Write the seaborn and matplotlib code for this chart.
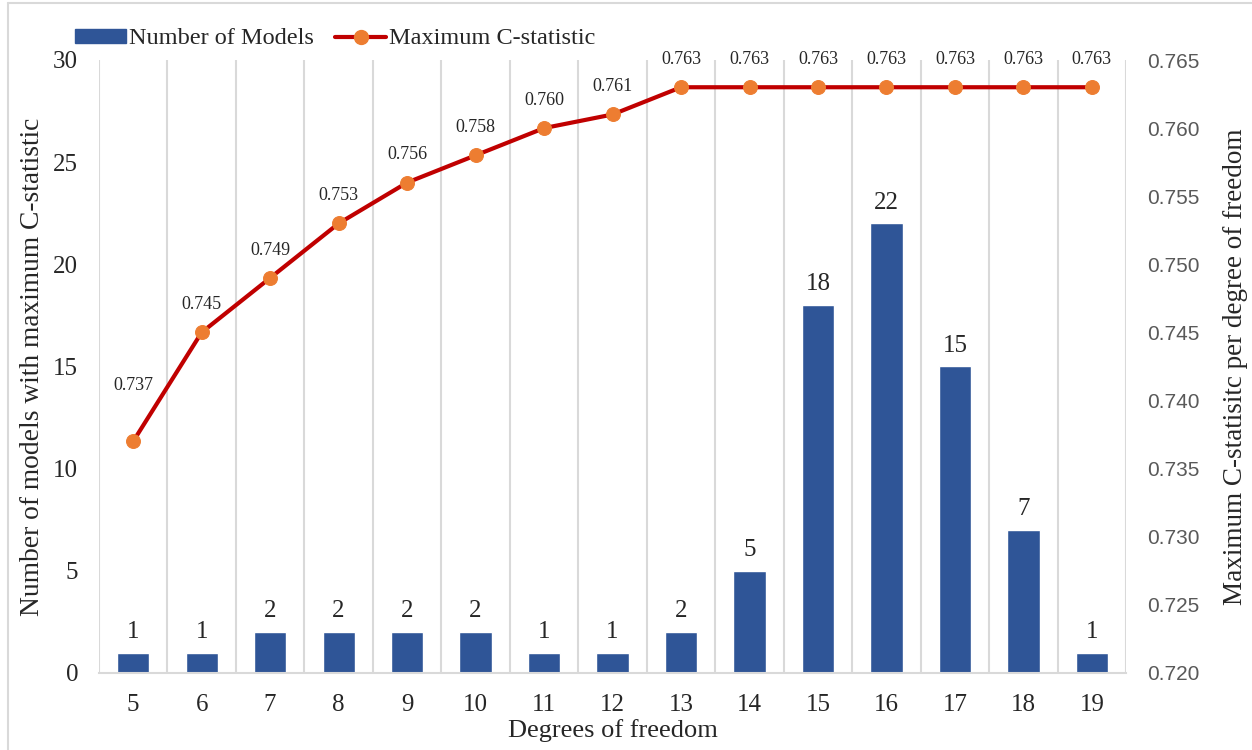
import numpy as np
import pandas as pd
import matplotlib
matplotlib.use("Agg")
import matplotlib.pyplot as plt
from matplotlib.lines import Line2D
from matplotlib.patches import Patch
import seaborn as sns

# Data
degrees = [5, 6, 7, 8, 9, 10, 11, 12, 13, 14, 15, 16, 17, 18, 19]
n_models = [1, 1, 2, 2, 2, 2, 1, 1, 2, 5, 18, 22, 15, 7, 1]
max_cstat = [0.737, 0.745, 0.749, 0.753, 0.756, 0.758, 0.760, 0.761,
             0.763, 0.763, 0.763, 0.763, 0.763, 0.763, 0.763]
left_ticks = [0, 5, 10, 15, 20, 25, 30]
right_ticks = [0.720, 0.725, 0.730, 0.735, 0.740, 0.745, 0.750,
               0.755, 0.760, 0.765]

BAR = "#2F5597"
LINE = "#C00000"
MARK = "#ED7D31"
GRID = "#D9D9D9"
SERIF = ["Liberation Serif", "DejaVu Serif"]

sns.set_theme(style="white")
plt.rcParams["font.family"] = SERIF

df = pd.DataFrame({"dof": [str(d) for d in degrees],
                   "models": n_models,
                   "cstat": max_cstat})
df["pos"] = np.arange(len(df))

fig = plt.figure(figsize=(12.52, 7.5), dpi=100)
ax = fig.add_axes([0.079, 0.1027, 0.8205, 0.8173])

sns.barplot(data=df, x="dof", y="models", color=BAR, width=0.47,
            saturation=1, ax=ax, zorder=2)

ax.set_ylim(0, 30)
ax.set_yticks(left_ticks)
ax.set_xlim(-0.5, len(df) - 0.5)
ax.set_xticks(np.arange(len(df) + 1) - 0.5, minor=True)
ax.grid(False)
ax.grid(True, which="minor", axis="x", color=GRID, linewidth=1.5, zorder=0)
ax.tick_params(axis="x", which="both", length=0, labelsize=18, pad=15)
ax.tick_params(axis="y", length=0, labelsize=18, pad=15)
for s in ["top", "right", "left"]:
    ax.spines[s].set_visible(False)
ax.spines["bottom"].set_color(GRID)
ax.spines["bottom"].set_linewidth(1.5)
ax.set_xlabel("Degrees of freedom", fontsize=19, labelpad=2)
ax.set_ylabel("Number of models with maximum C-statistic", fontsize=19.8,
              labelpad=6)

for p, v in zip(df["pos"], df["models"]):
    ax.annotate(str(v), (p, v), xytext=(0, 7), textcoords="offset points",
                ha="center", va="bottom", fontsize=18)

ax2 = ax.twinx()
sns.lineplot(data=df, x="pos", y="cstat", color=LINE, linewidth=3,
             marker="o", markersize=10, markerfacecolor=MARK,
             markeredgecolor=MARK, ax=ax2, zorder=3)
ax2.set_ylim(0.720, 0.765)
ax2.set_yticks(right_ticks)
ax2.set_yticklabels([f"{t:.3f}" for t in right_ticks],
                    family=["Liberation Sans", "DejaVu Sans"],
                    color="#595959", fontsize=15)
ax2.tick_params(axis="y", length=0, pad=15)
for s in ax2.spines.values():
    s.set_visible(False)
ax2.set_xlim(-0.5, len(df) - 0.5)
ax2.set_xlabel("")
ax2.set_ylabel("Maximum C-statisitc per degree of freedom", fontsize=19.5,
              labelpad=17)
ax2.grid(False)

# The first label sits higher so it clears the steep segment
for i, (p, v) in enumerate(zip(df["pos"], df["cstat"])):
    lift = 34 if i == 0 else 14
    ax2.annotate(f"{v:.3f}", (p, v), xytext=(0, lift),
                 textcoords="offset points", ha="center", va="bottom",
                 fontsize=13)

handles = [Patch(facecolor=BAR, edgecolor=BAR),
           Line2D([], [], color=LINE, linewidth=3, marker="o",
                  markersize=10, markerfacecolor=MARK, markeredgecolor=MARK)]
fig.legend(handles, ["Number of Models", "Maximum C-statistic"],
           loc="center left", bbox_to_anchor=(0.06, 0.948), ncol=2,
           frameon=False, fontsize=17.5, handlelength=2.1, handleheight=0.5,
           handletextpad=0.1, columnspacing=0.9, borderaxespad=0,
           borderpad=0)

# Thin frame on the left and top edges of the figure
fig.add_artist(Line2D([0.006, 0.006], [0, 0.996], transform=fig.transFigure,
                      color=GRID, linewidth=1.5))
fig.add_artist(Line2D([0.006, 1], [0.996, 0.996], transform=fig.transFigure,
                      color=GRID, linewidth=1.5))

fig.savefig("out.png", dpi=100, facecolor="white")
